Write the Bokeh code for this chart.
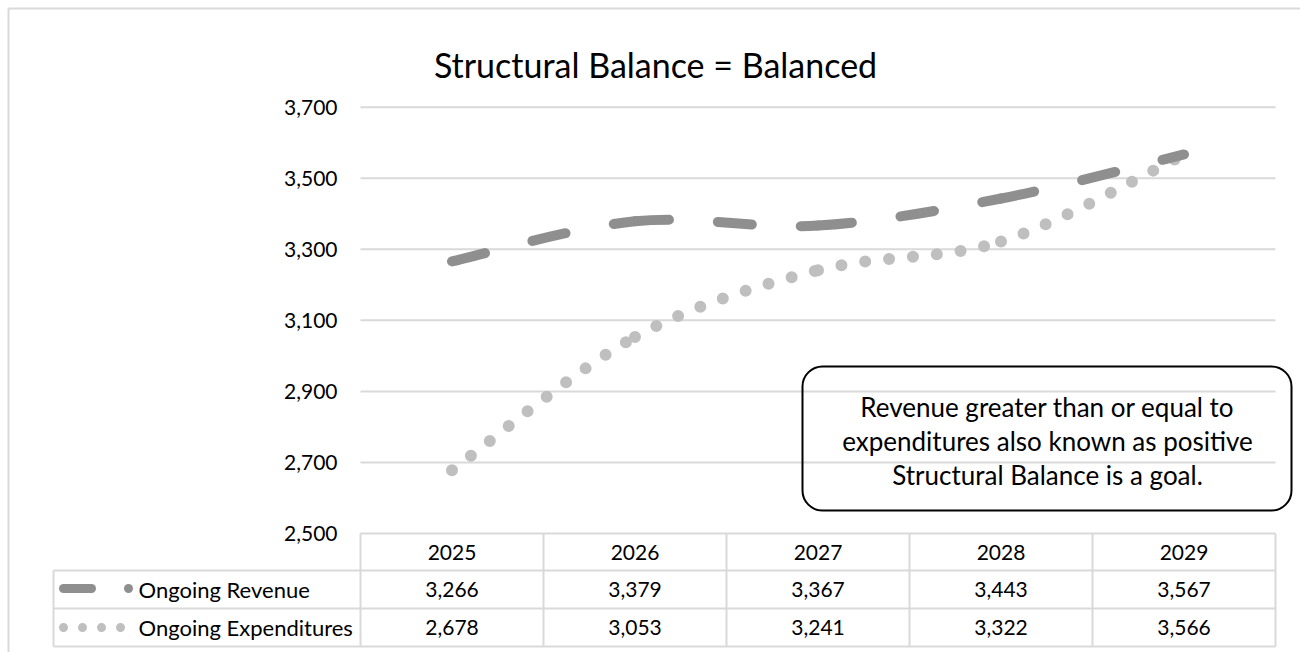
from bokeh.plotting import figure
from bokeh.models import (Range1d, LinearAxis, FixedTicker, NumeralTickFormatter,
                          ColumnDataSource, BoxAnnotation)
from bokeh.core.properties import value
from bokeh.embed import file_html
from bokeh.resources import INLINE

# ---------------- data ----------------
years = ["2025", "2026", "2027", "2028", "2029"]
revenue = [3266, 3379, 3367, 3443, 3567]
expenditures = [2678, 3053, 3241, 3322, 3566]
series_names = ["Ongoing Revenue", "Ongoing Expenditures"]
y_ticks = [2500, 2700, 2900, 3100, 3300, 3500, 3700]
title_text = "Structural Balance = Balanced"
note_lines = ["Revenue greater than or equal to",
              "expenditures also known as positive",
              "Structural Balance is a goal."]

# ---------------- layout helpers (page pixel -> data) ----------------
W, H = 1300, 652
PLOT_LEFT = 360.0          # px of category axis start
CAT_W = 183.0              # px per category
Y0_PX = 533.0              # px of first y tick
PXU = (533.0 - 106.7) / (y_ticks[-1] - y_ticks[0])   # px per unit


def X(px):
    return (px - PLOT_LEFT) / CAT_W


def Y(py):
    return y_ticks[0] + (Y0_PX - py) / PXU


REV_C = "#8f8f8f"
EXP_C = "#bfbfbf"
GRID_C = "#d9d9d9"
TXT_C = "#000000"
FONT = "Lato"

n = len(years)
xs = [i + 0.5 for i in range(n)]


def smooth_source(xv, yv):
    """Bezier segments through the data points (Excel-style smoothing)."""
    d = dict(x0=[], y0=[], x1=[], y1=[], cx0=[], cy0=[], cx1=[], cy1=[])
    m = len(xv)
    for i in range(m - 1):
        xm, ym = (xv[i - 1], yv[i - 1]) if i > 0 else (xv[i], yv[i])
        xp, yp = (xv[i + 2], yv[i + 2]) if i + 2 < m else (xv[i + 1], yv[i + 1])
        d["x0"].append(xv[i]); d["y0"].append(yv[i])
        d["x1"].append(xv[i + 1]); d["y1"].append(yv[i + 1])
        d["cx0"].append(xv[i] + (xv[i + 1] - xm) / 6.0)
        d["cy0"].append(yv[i] + (yv[i + 1] - ym) / 6.0)
        d["cx1"].append(xv[i + 1] - (xp - xv[i]) / 6.0)
        d["cy1"].append(yv[i + 1] - (yp - yv[i]) / 6.0)
    return ColumnDataSource(d)


p = figure(width=W, height=H, x_range=Range1d(X(0), X(W)),
           y_range=Range1d(Y(H), Y(0)),
           x_axis_type=None, y_axis_type=None, toolbar_location=None,
           output_backend="svg", min_border=0, outline_line_color=None)
p.background_fill_color = "white"
p.border_fill_color = "white"

# outer chart border (top & left)
p.segment(x0=[X(8), X(8)], y0=[Y(8), Y(8)], x1=[X(1310), X(8)], y1=[Y(8), Y(700)],
          line_color=GRID_C, line_width=2)

# y axis
ax = LinearAxis(fixed_location=0, ticker=FixedTicker(ticks=y_ticks),
                formatter=NumeralTickFormatter(format="0,0"))
ax.axis_line_color = None
ax.major_tick_line_color = None
ax.minor_tick_line_color = None
ax.major_tick_in = 0
ax.major_tick_out = 0
ax.major_label_standoff = 23
ax.major_label_text_font = FONT
ax.major_label_text_font_size = "21px"
ax.major_label_text_color = TXT_C
p.add_layout(ax, "left")

# horizontal gridlines (the first also the top of the data table)
p.segment(x0=[0] * len(y_ticks), x1=[n] * len(y_ticks), y0=y_ticks, y1=y_ticks,
          line_color=GRID_C, line_width=2)

# data table lines
row_lines = [Y(570), Y(608), Y(646)]
p.segment(x0=[X(53)] * 3, x1=[n] * 3, y0=row_lines, y1=row_lines,
          line_color=GRID_C, line_width=2)
p.segment(x0=list(range(n + 1)), x1=list(range(n + 1)),
          y0=[y_ticks[0]] * (n + 1), y1=[Y(646)] * (n + 1),
          line_color=GRID_C, line_width=2)
p.segment(x0=[X(53)], x1=[X(53)], y0=[Y(570)], y1=[Y(646)],
          line_color=GRID_C, line_width=2)

# series lines (smoothed)
p.bezier(x0="x0", y0="y0", x1="x1", y1="y1", cx0="cx0", cy0="cy0", cx1="cx1", cy1="cy1",
         source=smooth_source(xs, expenditures), line_color=EXP_C, line_width=12,
         line_dash="0 24", line_cap="round")
p.bezier(x0="x0", y0="y0", x1="x1", y1="y1", cx0="cx0", cy0="cy0", cx1="cx1", cy1="cy1",
         source=smooth_source(xs, revenue), line_color=REV_C, line_width=10,
         line_dash="34 49", line_cap="round")

# table text
tfont = value(FONT)
p.text(x=xs, y=[Y(551.5)] * n, text=years, text_align="center", text_baseline="middle",
       text_font=tfont, text_font_size="21px", text_color=TXT_C)
p.text(x=xs, y=[Y(589)] * n, text=[f"{v:,}" for v in revenue], text_align="center",
       text_baseline="middle", text_font=tfont, text_font_size="21px", text_color=TXT_C)
p.text(x=xs, y=[Y(627)] * n, text=[f"{v:,}" for v in expenditures], text_align="center",
       text_baseline="middle", text_font=tfont, text_font_size="21px", text_color=TXT_C)
p.text(x=[X(138), X(138)], y=[Y(589), Y(627)], text=series_names, text_align="left",
       text_baseline="middle", text_font=tfont, text_font_size="22px", text_color=TXT_C)

# legend keys in the table
p.line(x=[X(63), X(91)], y=[Y(588), Y(588)], line_color=REV_C, line_width=9, line_cap="round")
p.scatter(x=[X(128)], y=[Y(588)], size=9, marker="circle", fill_color=REV_C, line_color=None)
p.line(x=[X(63), X(121)], y=[Y(627), Y(627)], line_color=EXP_C, line_width=9,
       line_dash="0 19", line_cap="round")

# title
p.text(x=[X(655)], y=[Y(64)], text=[title_text], text_align="center",
       text_baseline="alphabetic", text_font=tfont, text_font_size="34px", text_color=TXT_C)

# annotation box
box = BoxAnnotation(left=X(802), right=X(1291), top=Y(366), bottom=Y(510),
                    fill_alpha=0, line_color="black", line_alpha=1.0, line_width=2,
                    border_radius=20)
p.add_layout(box)
p.text(x=[X(1047)] * 3, y=[Y(406), Y(440), Y(474)], text=note_lines, text_align="center",
       text_baseline="middle", text_font=tfont, text_font_size="26px", text_color=TXT_C)

open("out.html", "w").write(file_html(p, INLINE))
